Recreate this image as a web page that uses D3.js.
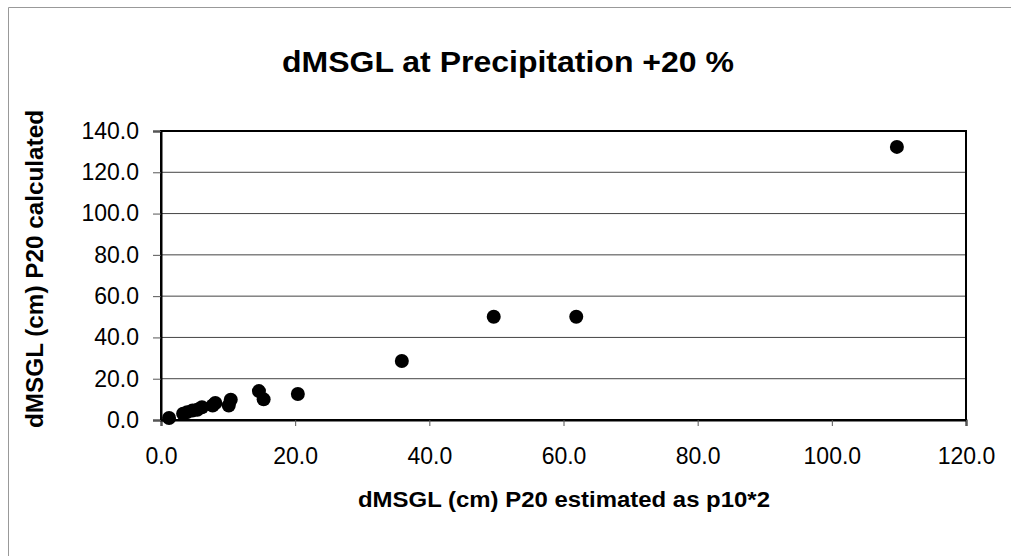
<!DOCTYPE html>
<html>
<head>
<meta charset="utf-8">
<script src="https://cdn.jsdelivr.net/npm/d3@7"></script>
<style>
  html, body { margin: 0; padding: 0; background: #fff; }
  svg { display: block; }
  text { font-family: "Liberation Sans", Arial, sans-serif; fill: #000; }
</style>
</head>
<body>
<svg id="chart" width="1011" height="556"></svg>
<script>
// dMSGL (cm) at +20 % precipitation: estimated (p10*2) vs calculated
const estimated  = [1.2, 3.3, 3.9, 4.7, 5.4, 6.1, 7.7, 8.1, 10.1, 10.4, 14.6, 15.3, 20.4, 35.9, 49.6, 61.9, 109.7];
const calculated = [1.0, 3.0, 3.8, 4.6, 5.0, 6.2, 7.0, 8.2, 7.0, 9.8, 14.0, 10.0, 12.6, 28.6, 50.0, 50.0, 132.3];
const xTicks = [0, 20, 40, 60, 80, 100, 120];
const yTicks = [0, 20, 40, 60, 80, 100, 120, 140];

const titleText = "dMSGL at Precipitation +20 %";
const xTitle = "dMSGL (cm) P20 estimated as p10*2";
const yTitle = "dMSGL (cm) P20 calculated";

const svg = d3.select("#chart");
const plot = { left: 161, right: 966, top: 131, bottom: 420 };

const x = d3.scaleLinear().domain([0, 120]).range([plot.left, plot.right]);
const y = d3.scaleLinear().domain([0, 140]).range([plot.bottom, plot.top]);

// outer frame
svg.append("path")
  .attr("d", "M8.5,556 L8.5,7.5 L1011,7.5")
  .attr("fill", "none").attr("stroke", "#999").attr("stroke-width", 1);

// horizontal gridlines
svg.append("g")
  .selectAll("line")
  .data(yTicks.slice(1))
  .join("line")
  .attr("x1", plot.left).attr("x2", plot.right)
  .attr("y1", d => y(d)).attr("y2", d => y(d))
  .attr("stroke", "#444").attr("stroke-width", 1);

// plot border
svg.append("rect")
  .attr("x", plot.left).attr("y", plot.top)
  .attr("width", plot.right - plot.left).attr("height", plot.bottom - plot.top)
  .attr("fill", "none").attr("stroke", "#000").attr("stroke-width", 2);

// x axis
const xAxis = svg.append("g")
  .attr("transform", `translate(0,${plot.bottom})`)
  .call(d3.axisBottom(x).tickValues(xTicks).tickSize(6).tickPadding(22).tickFormat(d3.format(".1f")));
xAxis.select(".domain").attr("stroke", "#000").attr("stroke-width", 2);
xAxis.selectAll(".tick line").attr("stroke", "#555");
xAxis.selectAll("text").attr("font-size", 23).attr("font-family", "Liberation Sans, Arial, sans-serif");

// y axis
const yAxis = svg.append("g")
  .attr("transform", `translate(${plot.left},0)`)
  .call(d3.axisLeft(y).tickValues(yTicks).tickSize(8).tickPadding(14).tickFormat(d3.format(".1f")));
yAxis.select(".domain").attr("stroke", "#000").attr("stroke-width", 2);
yAxis.selectAll(".tick line").attr("stroke", "#555");
yAxis.selectAll("text").attr("font-size", 23).attr("font-family", "Liberation Sans, Arial, sans-serif");

// points
svg.append("g")
  .selectAll("circle")
  .data(estimated.map((v, i) => [v, calculated[i]]))
  .join("circle")
  .attr("cx", d => x(d[0]))
  .attr("cy", d => y(d[1]))
  .attr("r", 7)
  .attr("fill", "#000");

// titles
svg.append("text")
  .attr("x", 508).attr("y", 72)
  .attr("text-anchor", "middle")
  .attr("font-size", 30).attr("font-weight", "bold")
  .attr("textLength", 452).attr("lengthAdjust", "spacingAndGlyphs")
  .text(titleText);

svg.append("text")
  .attr("x", 564).attr("y", 507)
  .attr("text-anchor", "middle")
  .attr("font-size", 22).attr("font-weight", "bold")
  .attr("textLength", 412).attr("lengthAdjust", "spacingAndGlyphs")
  .text(xTitle);

svg.append("text")
  .attr("transform", "translate(43,269) rotate(-90)")
  .attr("text-anchor", "middle")
  .attr("font-size", 24).attr("font-weight", "bold")
  .attr("textLength", 318).attr("lengthAdjust", "spacingAndGlyphs")
  .text(yTitle);
</script>
</body>
</html>
